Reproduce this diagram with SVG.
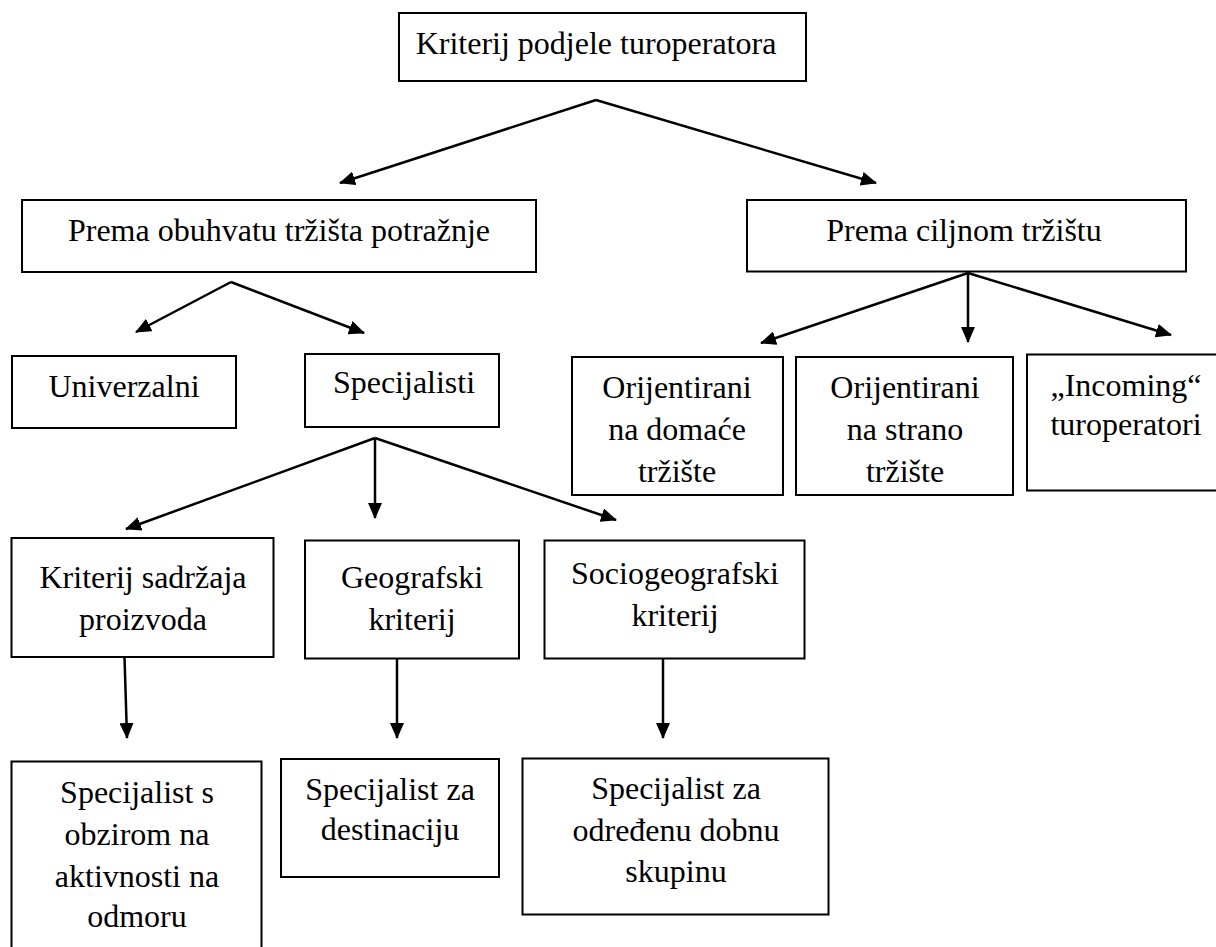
<svg xmlns="http://www.w3.org/2000/svg" width="1216" height="947" viewBox="0 0 1216 947">
<style>
.box{fill:#fff;stroke:#000;stroke-width:2}
.t{font-family:'Liberation Serif','Times New Roman',Tinos,'DejaVu Serif',serif;font-size:32px;fill:#000;text-anchor:middle}
.c{fill:none;stroke:#000;stroke-width:2.5;marker-end:url(#ah)}
</style>
<defs>
<marker id="ah" viewBox="0 0 16 14" refX="15" refY="7" markerWidth="16" markerHeight="14" markerUnits="userSpaceOnUse" orient="auto">
<path d="M0,0 L16,7 L0,14 z" fill="#000"/>
</marker>
</defs>
<rect width="1216" height="947" fill="#fff"/>
<g id="connectors">
<path class="c" d="M596,100 L340,183"/>
<path class="c" d="M596,100 L876,183"/>
<path class="c" d="M231,282 L136,332"/>
<path class="c" d="M231,282 L364,333"/>
<path class="c" d="M968,273 L761,343"/>
<path class="c" d="M968,273 L968,342"/>
<path class="c" d="M968,273 L1171,335"/>
<path class="c" d="M375,438 L126,529"/>
<path class="c" d="M375,438 L375,518"/>
<path class="c" d="M375,438 L616,520"/>
<path class="c" d="M124.5,657 L127,738"/>
<path class="c" d="M397,659 L397,738"/>
<path class="c" d="M663,659 L663,738"/>
</g>
<g id="n-root"><rect class="box" x="399" y="13" width="407" height="68"/><text class="t" x="596" y="53.5">Kriterij podjele turoperatora</text></g>
<g id="n-obuhvat"><rect class="box" x="22" y="200" width="514" height="72"/><text class="t" x="279" y="240.5">Prema obuhvatu tržišta potražnje</text></g>
<g id="n-ciljno"><rect class="box" x="747" y="200" width="439" height="71.5"/><text class="t" x="964" y="240.5">Prema ciljnom tržištu</text></g>
<g id="n-univerzalni"><rect class="box" x="12" y="356" width="224" height="72"/><text class="t" x="124" y="397">Univerzalni</text></g>
<g id="n-specijalisti"><rect class="box" x="305" y="354" width="194" height="73"/><text class="t" x="404" y="393">Specijalisti</text></g>
<g id="n-domace"><rect class="box" x="572" y="357" width="211" height="138"/><text class="t" x="677" y="398">Orijentirani</text><text class="t" x="677" y="440">na domaće</text><text class="t" x="677" y="481.5">tržište</text></g>
<g id="n-strano"><rect class="box" x="796" y="357" width="217" height="138"/><text class="t" x="905" y="398">Orijentirani</text><text class="t" x="905" y="440">na strano</text><text class="t" x="905" y="481.5">tržište</text></g>
<g id="n-incoming"><rect class="box" x="1027" y="354.5" width="200" height="136"/><text class="t" x="1126" y="396">„Incoming“</text><text class="t" x="1126" y="435">turoperatori</text></g>
<g id="n-sadrzaj"><rect class="box" x="11.5" y="538" width="262" height="119"/><text class="t" x="143" y="588">Kriterij sadržaja</text><text class="t" x="143" y="629.5">proizvoda</text></g>
<g id="n-geo"><rect class="box" x="305" y="540.5" width="214" height="118"/><text class="t" x="412" y="588">Geografski</text><text class="t" x="412" y="629.5">kriterij</text></g>
<g id="n-socio"><rect class="box" x="544.5" y="540.5" width="260" height="118"/><text class="t" x="675" y="584">Sociogeografski</text><text class="t" x="675" y="625.5">kriterij</text></g>
<g id="n-aktivnosti"><rect class="box" x="11.5" y="761.5" width="250" height="200"/><text class="t" x="137" y="803">Specijalist s</text><text class="t" x="137" y="845">obzirom na</text><text class="t" x="137" y="886.5">aktivnosti na</text><text class="t" x="137" y="927">odmoru</text></g>
<g id="n-destinacija"><rect class="box" x="281" y="759" width="218" height="118"/><text class="t" x="390" y="800">Specijalist za</text><text class="t" x="390" y="840">destinaciju</text></g>
<g id="n-dobna"><rect class="box" x="522.5" y="758.5" width="306" height="156"/><text class="t" x="676" y="799">Specijalist za</text><text class="t" x="676" y="840.5">određenu dobnu</text><text class="t" x="676" y="882">skupinu</text></g>
</svg>
